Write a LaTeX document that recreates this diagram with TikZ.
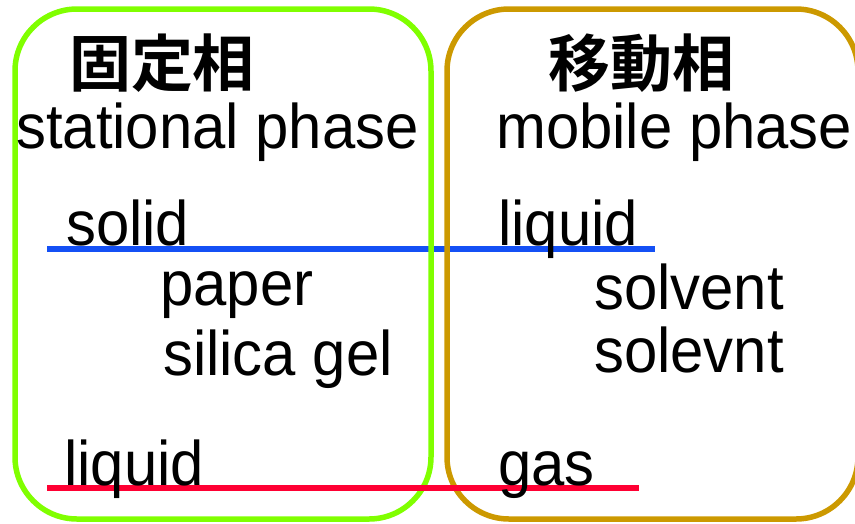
\documentclass[tikz,border=0pt]{standalone}
\usepackage{fontspec}
\setmainfont[FakeStretch=0.95]{Liberation Sans}
\newfontfamily\cjkbold{Noto Sans CJK JP Bold}
\definecolor{statgreen}{RGB}{128,255,0}
\definecolor{mobgold}{RGB}{204,153,0}
\definecolor{lineblue}{RGB}{20,80,245}
\definecolor{linered}{RGB}{255,0,51}
\tikzset{
  phasebox/.style={line width=5.5pt, rounded corners=62pt},
  sepline/.style={line width=5.5pt},
  lbl/.style={anchor=base west, inner sep=0pt, font=\fontsize{63}{63}\selectfont},
  title/.style={anchor=base, inner sep=0pt, font=\fontsize{62}{62}\cjkbold}
}
\begin{document}
\begin{tikzpicture}[x=1pt,y=-1pt]
\useasboundingbox (0,0) rectangle (855,523);
% blue line (below boxes)
\coordinate (b1) at (47,249);
\coordinate (b2) at (655,249);
\draw[sepline, lineblue] (b1) -- (b2);
% boxes
\draw[phasebox, statgreen] (15,9) rectangle (431,519);
\draw[phasebox, mobgold] (447,9) rectangle (858,519);
% red line (above boxes)
\coordinate (r1) at (47,488);
\coordinate (r2) at (639,488);
\draw[sepline, linered] (r1) -- (r2);
% titles
\node[title] (t1) at (162,86) {固定相};
\node[title] (t2) at (641,86) {移動相};
\node[lbl] (s1) at (16,148) {stational phase};
\node[lbl] (m1) at (496,148) {mobile phase};
\node[lbl] (sol) at (66,245) {solid};
\node[lbl] (liq1) at (498,245) {liquid};
\node[lbl] (pap) at (160,305) {paper};
\node[lbl] (sil) at (163,375) {silica gel};
\node[lbl] (solv1) at (594,309) {solvent};
\node[lbl] (solv2) at (594,372) {solevnt};
\node[lbl] (liq2) at (64,485) {liquid};
\node[lbl] (gas) at (498,485) {gas};
\end{tikzpicture}
\end{document}
